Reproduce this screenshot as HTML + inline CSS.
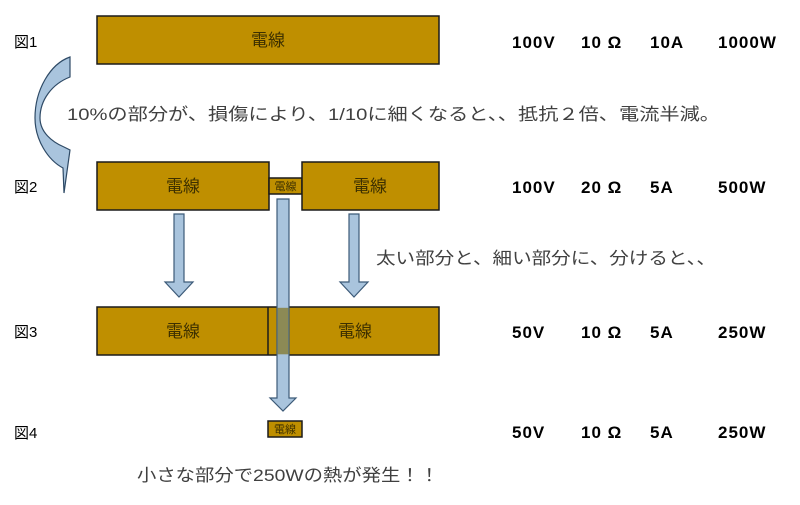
<!DOCTYPE html>
<html><head><meta charset="utf-8"><style>
html,body{margin:0;padding:0;background:#fff;width:800px;height:505px;overflow:hidden}
svg text{font-family:"Liberation Sans","Noto Sans CJK JP",sans-serif}
</style></head><body>
<svg width="800" height="505" viewBox="0 0 800 505" xmlns="http://www.w3.org/2000/svg">
<g fill="#BF8F00" stroke="#1a1a1a" stroke-width="1.5">
<rect x="97" y="16" width="342" height="48"/>
<rect x="97" y="162" width="172" height="48"/>
<rect x="269" y="178" width="33" height="16"/>
<rect x="302" y="162" width="137" height="48"/>
<rect x="97" y="307" width="342" height="48"/>
<line x1="268" y1="307" x2="268" y2="355"/>
<rect x="268" y="421" width="34" height="16"/>
</g>
<g fill="#3d3000" font-size="17" text-anchor="middle">
<text x="268" y="46">電線</text>
<text x="183" y="192">電線</text>
<text x="370" y="192">電線</text>
<text x="183" y="337">電線</text>
<text x="355" y="337">電線</text>
</g>
<g fill="#3d3000" font-size="11" text-anchor="middle">
<text x="285.5" y="190">電線</text>
<text x="285" y="433">電線</text>
</g>
<path d="M70 57 L70 77 C52 84 40 100 40 118 C40 132 52 142 64 147 L70 150 L64 193 L63 168 C48 160 35 140 35 118 C35 90 50 64 70 57 Z" fill="#A9C4DD" stroke="#2E4A66" stroke-width="1.2"/>
<g fill="#A9C4DD" stroke="#3C5A78" stroke-width="1.2">
<path d="M174 214 H184 V282 H193 L179 297 L165 282 H174 Z"/>
<path d="M349 214 H359 V282 H368 L354 297 L340 282 H349 Z"/>
<path d="M277 199 H289 V398 H296 L283 411 L270 398 H277 Z"/>
</g>
<rect x="277.6" y="307.8" width="10.8" height="46.5" fill="#8C8A55"/>
<g fill="#404040" font-size="17">
<text x="67" y="120" textLength="653" lengthAdjust="spacingAndGlyphs">10%の部分が、損傷により、1/10に細くなると、、抵抗２倍、電流半減。</text>
<text x="376" y="264" textLength="340" lengthAdjust="spacingAndGlyphs">太い部分と、細い部分に、分けると、、</text>
<text x="137" y="481" textLength="302" lengthAdjust="spacingAndGlyphs">小さな部分で250Wの熱が発生！！</text>
</g>
<g fill="#000" font-size="15">
<text x="14" y="47">図1</text><text x="14" y="192">図2</text>
<text x="14" y="337">図3</text><text x="14" y="438">図4</text>
</g>
<g fill="#000" font-size="17" font-weight="bold" letter-spacing="1">
<text x="512" y="48">100V</text><text x="581" y="48">10 Ω</text><text x="650" y="48">10A</text><text x="718" y="48">1000W</text>
<text x="512" y="193">100V</text><text x="581" y="193">20 Ω</text><text x="650" y="193">5A</text><text x="718" y="193">500W</text>
<text x="512" y="338">50V</text><text x="581" y="338">10 Ω</text><text x="650" y="338">5A</text><text x="718" y="338">250W</text>
<text x="512" y="438">50V</text><text x="581" y="438">10 Ω</text><text x="650" y="438">5A</text><text x="718" y="438">250W</text>
</g>
</svg>
</body></html>
